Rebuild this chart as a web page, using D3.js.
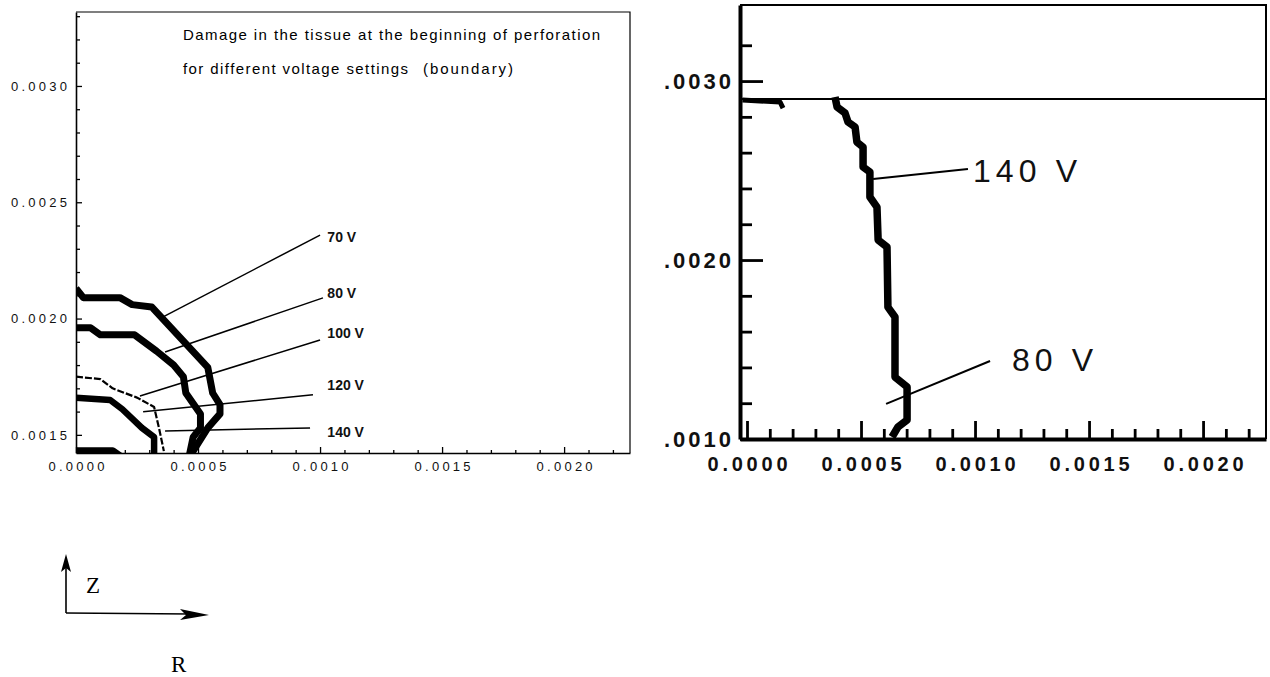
<!DOCTYPE html>
<html><head><meta charset="utf-8">
<script src="https://cdn.jsdelivr.net/npm/d3@7"></script>
<style>body{margin:0;background:#fff} svg{display:block}</style>
</head><body>
<svg id="chart" width="1270" height="677"></svg>
<script>
// ---------- data ----------
const leftTitle1 = "Damage in the tissue at the beginning of perforation";
const leftTitle2a = "for different voltage settings";
const leftTitle2b = "(boundary)";
const leftYTicks = [0.0015, 0.0020, 0.0025, 0.0030];
const leftXTicks = [0.0000, 0.0005, 0.0010, 0.0015, 0.0020];
const rightYTicks = [0.0010, 0.0020, 0.0030];
const rightXTicks = [0.0000, 0.0005, 0.0010, 0.0015, 0.0020];

// left panel: damage boundaries [R, Z]
const contour70V = [[0,0.00213],[0.00003,0.00209],[0.00018,0.00209],[0.00023,0.00206],[0.00031,0.00205],[0.00054,0.00179],[0.00056,0.00168],[0.00059,0.00163],[0.00059,0.00159],[0.00054,0.00153],[0.00048,0.00143],[0.00046,0.00139]];
const contour80V = [[0,0.00196],[0.00006,0.00196],[0.00010,0.00193],[0.00024,0.00193],[0.00033,0.00186],[0.00040,0.00180],[0.00044,0.00175],[0.00045,0.00168],[0.00051,0.00159],[0.00051,0.00153],[0.00048,0.00149],[0.00046,0.00139]];
const contour100V = [[0,0.00175],[0.00010,0.00174],[0.00015,0.00170],[0.00025,0.00166],[0.00032,0.00162],[0.00034,0.00153],[0.00036,0.00143]];
const contour120V = [[0,0.00166],[0.00014,0.00165],[0.00019,0.00161],[0.00027,0.00153],[0.00032,0.00149],[0.00032,0.00139]];
const contour140V = [[0,0.00143],[0.00015,0.00143],[0.00019,0.00140]];
const leftLabels = ["70 V","80 V","100 V","120 V","140 V"];
const leftLabelR = [0.00103, 0.00103, 0.00103, 0.00103, 0.00103];
const leftLabelZ = [0.002351, 0.00211, 0.001938, 0.001714, 0.001512];
const leftLeaderFrom = [[0.000357,0.002007],[0.000365,0.001856],[0.000262,0.001667],[0.000275,0.001599],[0.000365,0.001517]];
const leftLeaderTo = [[0.00100,0.002359],[0.001012,0.002089],[0.00100,0.001908],[0.000971,0.001672],[0.000959,0.00153]];

// right panel
const rightLevel = 0.0029;
const right140Top = [[-0.00002,0.002894],[0.000145,0.002883],[0.000158,0.002849]];
const right140V = [[0.000386,0.002911],[0.000395,0.002855],[0.00043,0.002821],[0.000443,0.002771],[0.000474,0.002743],[0.000482,0.002659],[0.000509,0.002631],[0.000509,0.00252],[0.000539,0.002492],[0.000539,0.002352],[0.00057,0.002296],[0.000575,0.002112],[0.000614,0.002073],[0.000618,0.001737],[0.000649,0.001682],[0.000649,0.001346],[0.000702,0.001291],[0.000702,0.001106],[0.000662,0.001067],[0.000636,0.001011]];
const rightLabels = ["140 V","80 V"];
const rightLabelR = [0.000991, 0.001162];
const rightLabelZ = [0.002503, 0.001447];
const rightLeaderFrom = [[0.000553,0.002453],[0.00061,0.001196]];
const rightLeaderTo = [[0.000969,0.002508],[0.001066,0.001436]];

// ---------- drawing ----------
const svg = d3.select("#chart");
const sans = "'Liberation Sans', Arial, sans-serif";

// LEFT PANEL
const xL = d3.scaleLinear().domain([0, 0.00227]).range([76, 630]);
const yL = d3.scaleLinear().domain([0.001422, 0.003318]).range([453, 12]);
const f4 = d3.format(".4f");

svg.append("defs").append("clipPath").attr("id","clipL")
  .append("rect").attr("x",76).attr("y",12).attr("width",554).attr("height",441);

svg.append("path").attr("d",`M${xL(0)},${yL(0.003318)}H${xL(0.00227)}V${yL(0.001422)}`)
  .attr("fill","none").attr("stroke","#000").attr("stroke-width",1.2);

const minorLY = d3.range(15, 34).map(v => v/10000).filter(v => !leftYTicks.some(t => Math.abs(t-v)<1e-9));
const minorLX = d3.range(0, 23).map(v => v/10000).filter(v => !leftXTicks.some(t => Math.abs(t-v)<1e-9));

const gYLm = svg.append("g").attr("transform","translate(76,0)")
  .call(d3.axisLeft(yL).tickValues(minorLY).tickSizeInner(-4).tickSizeOuter(0).tickFormat(""));
gYLm.select(".domain").remove();
const gYL = svg.append("g").attr("transform","translate(76,0)")
  .call(d3.axisLeft(yL).tickValues(leftYTicks).tickSizeInner(-6).tickSizeOuter(0).tickPadding(9).tickFormat(f4));
const gXLm = svg.append("g").attr("transform","translate(0,453)")
  .call(d3.axisBottom(xL).tickValues(minorLX).tickSizeInner(-3).tickSizeOuter(0).tickFormat(""));
gXLm.select(".domain").remove();
const gXL = svg.append("g").attr("transform","translate(0,453)")
  .call(d3.axisBottom(xL).tickValues(leftXTicks).tickSizeInner(-6).tickSizeOuter(0).tickPadding(9).tickFormat(f4));
[gYL, gXL].forEach(g => {
  g.select(".domain").attr("stroke-width",1.6);
  g.selectAll("text").attr("font-family",sans).attr("font-size",13).attr("fill","#111")
    .attr("textLength",56).attr("lengthAdjust","spacing");
});
[gYL, gXL, gYLm, gXLm].forEach(g => g.selectAll("line").attr("stroke-width",1.3));

svg.append("text").attr("x",183).attr("y",40).attr("font-family",sans).attr("font-size",15)
  .attr("textLength",417).attr("lengthAdjust","spacing").text(leftTitle1);
svg.append("text").attr("x",183).attr("y",74).attr("font-family",sans).attr("font-size",15)
  .attr("textLength",225).attr("lengthAdjust","spacing").text(leftTitle2a);
svg.append("text").attr("x",423).attr("y",74).attr("font-family",sans).attr("font-size",15)
  .attr("textLength",90).attr("lengthAdjust","spacing").text(leftTitle2b);

const lineL = d3.line().x(d => xL(d[0])).y(d => yL(d[1]));
const gC = svg.append("g").attr("clip-path","url(#clipL)");
const contours = [
  {pts: contour70V, w: 7},
  {pts: contour80V, w: 7},
  {pts: contour100V, w: 2.2, dash: "7,2"},
  {pts: contour120V, w: 6.5},
  {pts: contour140V, w: 8}
];
contours.forEach(c => {
  gC.append("path").attr("d", lineL(c.pts)).attr("fill","none").attr("stroke","#000")
    .attr("stroke-width", c.w).attr("stroke-linejoin","round")
    .attr("stroke-dasharray", c.dash || null);
});
leftLeaderFrom.forEach((p,i) => {
  svg.append("line").attr("x1",xL(p[0])).attr("y1",yL(p[1]))
    .attr("x2",xL(leftLeaderTo[i][0])).attr("y2",yL(leftLeaderTo[i][1]))
    .attr("stroke","#000").attr("stroke-width",1.5);
});
leftLabels.forEach((t,i) => {
  svg.append("text").attr("x",xL(leftLabelR[i])).attr("y",yL(leftLabelZ[i]))
    .attr("dy","0.36em").attr("font-family",sans).attr("font-size",14).attr("font-weight","bold")
    .attr("fill","#111").text(t);
});

// RIGHT PANEL
const xR = d3.scaleLinear().domain([-0.0000307, 0.002276]).range([740, 1266]);
const yR = d3.scaleLinear().domain([0.0010, 0.003425]).range([439, 5]);
const fR = v => d3.format(".4f")(v).replace(/^0/, "");

svg.append("path").attr("d",`M${xR(-0.0000307)},${yR(0.003425)}H${xR(0.002276)}V${yR(0.0010)}`)
  .attr("fill","none").attr("stroke","#000").attr("stroke-width",2);

const minorRY = d3.range(10, 34, 2).map(v => v/10000).filter(v => !rightYTicks.some(t => Math.abs(t-v)<1e-9));
const minorRX = d3.range(1, 23).map(v => v/10000).filter(v => !rightXTicks.some(t => Math.abs(t-v)<1e-9));

const gYRm = svg.append("g").attr("transform","translate(740,0)")
  .call(d3.axisLeft(yR).tickValues(minorRY).tickSizeInner(-12).tickSizeOuter(0).tickFormat(""));
gYRm.select(".domain").remove();
const gYR = svg.append("g").attr("transform","translate(740,0)")
  .call(d3.axisLeft(yR).tickValues(rightYTicks).tickSizeInner(-23).tickSizeOuter(0).tickPadding(9).tickFormat(fR));
const gXRm = svg.append("g").attr("transform","translate(0,439)")
  .call(d3.axisBottom(xR).tickValues(minorRX).tickSizeInner(-10).tickSizeOuter(0).tickFormat(""));
gXRm.select(".domain").remove();
const gXR = svg.append("g").attr("transform","translate(0,439)")
  .call(d3.axisBottom(xR).tickValues(rightXTicks).tickSizeInner(-18).tickSizeOuter(0).tickPadding(18).tickFormat(f4));
[gYR, gXR].forEach(g => g.select(".domain").attr("stroke-width",4));
[gYR, gXR, gYRm, gXRm].forEach(g => g.selectAll("line").attr("stroke-width",2.8));
gYR.selectAll("text").attr("font-family",sans).attr("font-size",22).attr("font-weight","bold")
  .attr("fill","#111").attr("textLength",67).attr("lengthAdjust","spacing");
gXR.selectAll("text").attr("font-family",sans).attr("font-size",20).attr("font-weight","bold")
  .attr("fill","#111").attr("textLength",80).attr("lengthAdjust","spacing");

svg.append("line").attr("x1",xR(-0.0000307)).attr("x2",xR(0.002276))
  .attr("y1",yR(rightLevel)).attr("y2",yR(rightLevel)).attr("stroke","#000").attr("stroke-width",2);

const lineR = d3.line().x(d => xR(d[0])).y(d => yR(d[1]));
svg.append("path").attr("d", lineR(right140Top)).attr("fill","none").attr("stroke","#000")
  .attr("stroke-width",5).attr("stroke-linejoin","round");
svg.append("path").attr("d", lineR(right140V)).attr("fill","none").attr("stroke","#000")
  .attr("stroke-width",7.5).attr("stroke-linejoin","round");
rightLeaderFrom.forEach((p,i) => {
  svg.append("line").attr("x1",xR(p[0])).attr("y1",yR(p[1]))
    .attr("x2",xR(rightLeaderTo[i][0])).attr("y2",yR(rightLeaderTo[i][1]))
    .attr("stroke","#000").attr("stroke-width",2);
});
rightLabels.forEach((t,i) => {
  svg.append("text").attr("x",xR(rightLabelR[i])).attr("y",yR(rightLabelZ[i]))
    .attr("dy","0.36em").attr("font-family",sans).attr("font-size",32)
    .attr("fill","#111").attr("textLength", i===0 ? 104 : 81).attr("lengthAdjust","spacing").text(t);
});

// Z / R direction indicator
const ind = svg.append("g");
ind.append("line").attr("x1",66).attr("y1",613).attr("x2",66).attr("y2",566).attr("stroke","#000").attr("stroke-width",1.6);
ind.append("path").attr("d","M66,554 L61,572 L66,568 L71,572 Z").attr("fill","#000");
ind.append("line").attr("x1",66).attr("y1",613).attr("x2",190).attr("y2",614).attr("stroke","#000").attr("stroke-width",1.6);
ind.append("path").attr("d","M209,615 L180,609 L186,615 L180,620 Z").attr("fill","#000");
ind.append("text").attr("x",86).attr("y",593).attr("font-family","'Liberation Serif', 'Times New Roman', serif").attr("font-size",23).text("Z");
ind.append("text").attr("x",171).attr("y",672).attr("font-family","'Liberation Serif', 'Times New Roman', serif").attr("font-size",23).text("R");
</script>
</body></html>
